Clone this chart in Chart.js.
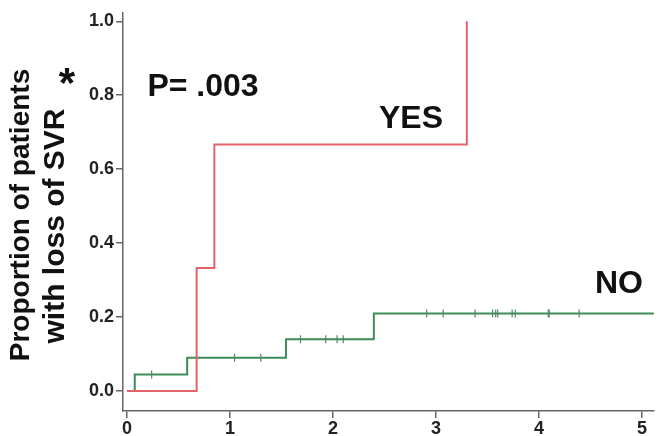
<!DOCTYPE html>
<html>
<head>
<meta charset="utf-8">
<script src="https://cdn.jsdelivr.net/npm/chart.js@4/dist/chart.umd.min.js"></script>
<style>
    html, body { margin: 0; padding: 0; background: #fff; }
    #wrap { width: 659px; height: 436px; position: relative; }
</style>
</head>
<body>
<div id="wrap"><canvas id="kmChart"></canvas></div>
<script>
// Follow-up time and cumulative proportion with loss of SVR
const yesTimes = [0, 0.677, 0.849, 3.30];
const yesValues = [0, 0.333, 0.667, 1.0];

const noTimes = [0, 0.076, 0.585, 1.544, 2.397, 5.6];
const noValues = [0, 0.045, 0.09, 0.14, 0.21, 0.21];

// Censored observations in the NO group
const noCensorTimes = [0.24, 1.045, 1.30, 1.685, 1.93, 2.04, 2.10,
    2.91, 3.07, 3.38, 3.55, 3.58, 3.60, 3.74, 3.77, 4.09, 4.10, 4.39];

const xTicks = [0, 1, 2, 3, 4, 5];
const yTicks = [0, 0.2, 0.4, 0.6, 0.8, 1.0];

const X_MIN = -0.038;
const X_MAX = 5.115;
const Y_MIN = -0.054;
const Y_MAX = 1.023;

const RED = '#e4636b';
const GREEN = '#3c8c57';
const AXIS = '#666666';
const FONT = '"Liberation Sans", Arial, Helvetica, sans-serif';

// Step value of a KM curve at time t
function stepValue(times, values, t) {
    let v = values[0];
    for (let i = 0; i < times.length; i++) {
        if (times[i] <= t) v = values[i];
    }
    return v;
}

const toPoints = (xs, ys) => xs.map((x, i) => ({ x: x, y: ys[i] }));

// Draw one rotated line of the y-axis title
function drawVertical(ctx, text, x, y) {
    ctx.save();
    ctx.translate(x, y);
    ctx.rotate(-Math.PI / 2);
    ctx.textAlign = 'center';
    ctx.fillText(text, 0, 0);
    ctx.restore();
}

// Annotations and axis title
const labelsPlugin = {
    id: 'kmLabels',
    afterDraw(chart) {
        const ctx = chart.ctx;
        ctx.save();
        ctx.fillStyle = '#111';
        ctx.textBaseline = 'alphabetic';
        ctx.textAlign = 'center';

        ctx.font = 'bold 32px ' + FONT;
        ctx.fillText('P= .003', 203, 96);
        ctx.fillText('YES', 411, 128);
        ctx.fillText('NO', 619, 293);

        ctx.font = 'bold 42px ' + FONT;
        ctx.fillText('*', 67, 97);

        ctx.font = 'bold 28px ' + FONT;
        drawVertical(ctx, 'Proportion of patients', 29, 215);
        ctx.font = 'bold 30px ' + FONT;
        drawVertical(ctx, 'with loss of SVR', 64, 226);

        ctx.restore();
    }
};

const axisStyle = {
    grid: {
        display: true,
        drawOnChartArea: false,
        drawTicks: true,
        tickLength: 7,
        color: AXIS,
        lineWidth: 1.5
    },
    border: { display: true, color: AXIS, width: 1.5 },
    ticks: {
        color: '#222',
        font: { family: FONT, size: 18, weight: 'bold' },
        padding: 2,
        maxRotation: 0,
        autoSkip: false
    }
};

new Chart(document.getElementById('kmChart'), {
    type: 'line',
    data: {
        datasets: [
            {
                label: 'YES',
                data: toPoints(yesTimes, yesValues),
                stepped: 'before',
                borderColor: RED,
                borderWidth: 2,
                pointRadius: 0,
                fill: false,
                order: 0
            },
            {
                label: 'NO',
                data: toPoints(noTimes, noValues),
                stepped: 'before',
                borderColor: GREEN,
                borderWidth: 2,
                pointRadius: 0,
                fill: false,
                order: 1
            },
            {
                label: 'NO censored',
                type: 'scatter',
                data: noCensorTimes.map(t => ({ x: t, y: stepValue(noTimes, noValues, t) })),
                pointStyle: 'line',
                rotation: 90,
                pointRadius: 4,
                borderWidth: 1.2,
                borderColor: '#4f8a60',
                backgroundColor: '#4f8a60',
                order: 0
            }
        ]
    },
    options: {
        responsive: true,
        maintainAspectRatio: false,
        animation: false,
        layout: { padding: { top: 11, right: 0, bottom: 0, left: 0 } },
        plugins: {
            legend: { display: false },
            tooltip: { enabled: false }
        },
        scales: {
            x: {
                type: 'linear',
                min: X_MIN,
                max: X_MAX,
                ...axisStyle,
                afterBuildTicks: (scale) => { scale.ticks = xTicks.map(v => ({ value: v })); },
                afterFit: (scale) => { scale.height = 25; },
                ticks: { ...axisStyle.ticks, padding: 0, callback: (v) => String(v) }
            },
            y: {
                type: 'linear',
                min: Y_MIN,
                max: Y_MAX,
                ...axisStyle,
                afterBuildTicks: (scale) => { scale.ticks = yTicks.map(v => ({ value: v })); },
                afterFit: (scale) => { scale.width = 123; },
                ticks: { ...axisStyle.ticks, callback: (v) => v.toFixed(1) }
            }
        }
    },
    plugins: [labelsPlugin]
});
</script>
</body>
</html>
